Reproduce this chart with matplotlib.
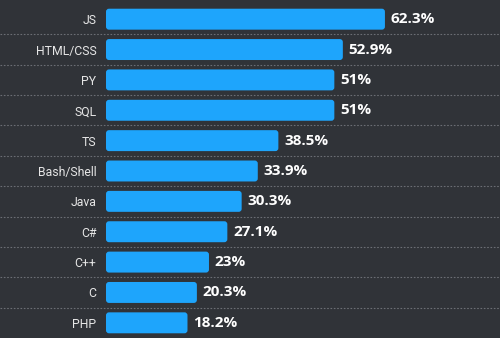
import matplotlib.pyplot as plt
from matplotlib.patches import FancyBboxPatch

lenguajes = ["JS", "HTML/CSS", "PY", "SQL", "TS", "Bash/Shell", "Java", "C#", "C++", "C", "PHP"]
porcentajes = [62.3, 52.9, 51, 51, 38.5, 33.9, 30.3, 27.1, 23, 20.3, 18.2]
etiquetas = ["62.3%", "52.9%", "51%", "51%", "38.5%", "33.9%", "30.3%", "27.1%", "23%", "20.3%", "18.2%"]

fondo = "#303338"
azul = "#1ea5fc"

plt.rcParams["font.family"] = ["Open Sans", "DejaVu Sans"]

fig = plt.figure(figsize=(5, 3.38), dpi=100, facecolor=fondo)
ax = fig.add_axes([106 / 500, 0, 394 / 500, 334 / 338])
ax.set_facecolor(fondo)

n = len(lenguajes)
ax.set_xlim(0, 88)
ax.set_ylim(n - 0.5, -0.5)

alto = 0.69
px_x = 394 / 88
px_y = 334 / n
for i, v in enumerate(porcentajes):
    barra = FancyBboxPatch(
        (0, i - alto / 2), v, alto,
        boxstyle="round,pad=0,rounding_size=%f" % (3 / px_x),
        mutation_aspect=px_x / px_y,
        facecolor=azul, edgecolor="none"
    )
    ax.add_patch(barra)
    ax.text(v + 1.3, i, etiquetas[i], color="white", fontsize=11,
            fontweight="bold", va="center", ha="left")

# lineas punteadas entre filas
for i in range(n - 1):
    ax.plot([-106 / 394, 1], [i + 0.5, i + 0.5], transform=ax.get_yaxis_transform(),
            color="#6b6e74", linestyle=(0, (1.5, 1.5)), linewidth=0.8, clip_on=False)

ax.set_yticks(range(n))
ax.set_yticklabels(lenguajes, color="#e6e6e6", fontsize=8.8,
                   family=["Roboto", "DejaVu Sans"])
ax.tick_params(axis="y", length=0, pad=7)
ax.set_xticks([])
for s in ax.spines.values():
    s.set_visible(False)

plt.savefig("out.png", dpi=100, facecolor=fondo)
